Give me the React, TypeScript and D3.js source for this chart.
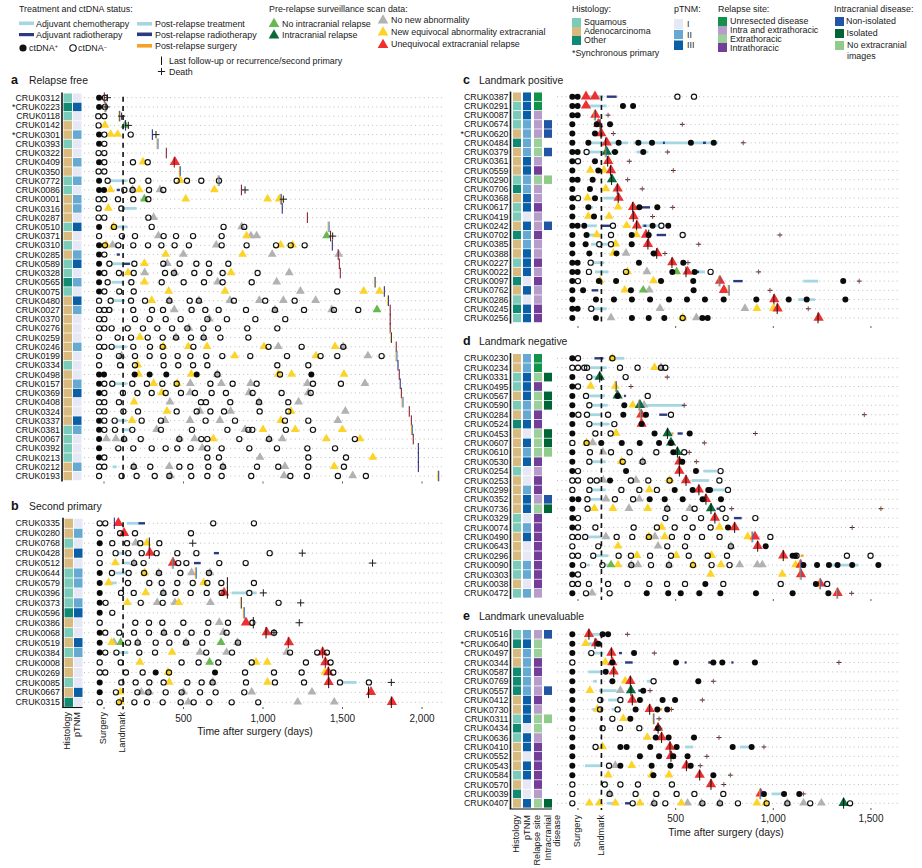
import React from "react";
import * as d3 from "d3";

type Row = { id: string; m: string; p?: number[]; n?: number[]; y?: number[]; g?: number[]; G?: number[]; D?: number[]; R?: number[]; c?: number[]; r?: number[]; s?: number[]; lr?: number[]; lb?: number[]; lo?: number[]; ly?: number[]; lk?: number[]; x?: number[] };

const relapseFree: Row[] = [
  { id: "CRUK0312", m: "S1", p: [-31], n: [6], lr: [2], x: [21] },
  { id: "*CRUK0223", m: "O3", p: [-31], n: [6], lo: [8], x: [13] },
  { id: "CRUK0118", m: "S1", n: [-36, 2], ly: [96], x: [111] },
  { id: "CRUK0142", m: "A1", n: [-34], y: [6], G: [132], lb: [136], x: [153] },
  { id: "*CRUK0301", m: "A2", p: [-31], n: [2, 168], y: [42, 86], lb: [304], x: [327] },
  { id: "CRUK0393", m: "S1", p: [-31], n: [2], lo: [337] },
  { id: "CRUK0322", m: "A1", n: [-34, 2], lr: [392] },
  { id: "CRUK0409", m: "A2", p: [-31], n: [2, 182, 275], y: [245], R: [446], lr: [442] },
  { id: "CRUK0350", m: "A1", n: [-34, 2], lo: [478] },
  { id: "CRUK0772", m: "S2", p: [-31], n: [23, 178, 279, 457, 522, 612, 723], c: [44, 143], y: [480], lo: [721] },
  { id: "CRUK0086", m: "S1", p: [-31, 0], y: [40, 222, 694], r: [80, 100], n: [128, 180, 283, 373], g: [180, 352], lr: [864], x: [887] },
  { id: "CRUK0001", m: "A2", n: [-34, 2, 88, 184, 279], G: [254], y: [514, 1029, 1102], lo: [1113], x: [1128] },
  { id: "CRUK0316", m: "A2", n: [-34, 109], y: [27], c: [117, 205], lb: [1121] },
  { id: "CRUK0287", m: "A1", n: [-34, 2, 279], g: [312], lr: [1279] },
  { id: "CRUK0510", m: "S3", p: [-31], y: [59], n: [63, 300, 752, 882], c: [59, 147], g: [866], lo: [1413] },
  { id: "CRUK0371", m: "A1", n: [-31, 113, 195, 375, 453, 560, 740], g: [342, 924, 960], y: [897], G: [1400], lr: [1425], x: [1438] },
  { id: "CRUK0310", m: "S1", p: [-31], y: [13, 1111, 1186], n: [6, 90, 184, 277, 361, 444, 534, 740, 897, 1082, 1174, 1262], g: [54, 706], lb: [1436] },
  { id: "CRUK0285", m: "A2", p: [-31], n: [2], r: [80, 100], y: [388, 872], g: [499, 1058, 1476], lr: [1473] },
  { id: "CRUK0589", m: "S3", p: [-31], n: [34, 191, 373, 476, 581, 660, 782], c: [44, 122], r: [122, 164], y: [254], g: [398], lr: [1480] },
  { id: "CRUK0328", m: "S1", p: [-31], n: [2, 94, 187, 384, 440, 568, 662, 746, 966], y: [151, 799], g: [256, 446, 1165], lr: [1486] },
  { id: "CRUK0565", m: "O2", p: [-31], n: [23, 172, 363, 501, 629, 746, 929], c: [48, 126], y: [254], g: [715, 1086], lo: [1704] },
  { id: "CRUK0075", m: "S1", p: [-31], n: [2, 96, 187, 1467], y: [407, 761, 1633, 1733], g: [1235], lb: [1763] },
  { id: "CRUK0480", m: "A3", n: [-31, 42, 170, 258, 411, 539, 597, 817, 1014, 1199], c: [59, 132], y: [300], g: [411, 597, 792, 977, 1128, 1331], ly: [1786] },
  { id: "CRUK0027", m: "A2", n: [-31, 2, 33, 184, 302, 371, 551, 637, 721, 893, 1075, 1258, 1446, 1599], c: [38, 59], g: [442, 1075, 1432], G: [1717], lr: [1800] },
  { id: "CRUK0370", m: "A1", n: [-31, 2, 195, 287, 388, 482, 650, 773, 952, 1140], g: [662], lr: [1800] },
  { id: "CRUK0276", m: "A1", n: [-31, 2, 48, 149, 245, 335, 428, 524, 625, 717, 901, 1090], g: [534], lr: [1800] },
  { id: "CRUK0259", m: "A1", n: [-31, 86, 170, 275, 369, 453, 547, 627, 732, 908], y: [226], g: [453, 627], ly: [1805] },
  { id: "CRUK0246", m: "A2", n: [-31, 2, 48, 184, 289, 369, 562, 1035, 1243, 1505], c: [59, 143], y: [373, 530, 648, 1006, 1453], g: [1096, 1505], lr: [1838] },
  { id: "CRUK0199", m: "A1", n: [-31, 94, 195, 287, 373, 463, 543, 643, 744, 920, 1151, 1362, 1467, 1746], g: [111, 1660], y: [822, 1333], lo: [1840] },
  { id: "CRUK0334", m: "S1", n: [-31, 101, 195, 375, 467, 560, 650, 1090, 1285], y: [212], lb: [1849] },
  { id: "CRUK0498", m: "A1", p: [-31, 0, 193, 287, 392, 583, 1304], y: [218, 549, 1096, 1180, 1509], n: [713, 1107], g: [713], lr: [1857] },
  { id: "CRUK0157", m: "A2", p: [-31], n: [2, 52, 178, 270, 367, 457, 669, 809, 960, 1314, 1490], c: [59, 143], y: [312, 461], g: [543, 738, 922, 1279, 1641], lb: [1863] },
  { id: "CRUK0369", m: "A3", p: [-31], n: [2, 119, 210, 300, 388, 484, 572, 677, 767, 935, 1117, 1300], y: [363], g: [541, 912, 1285], lr: [1870] },
  { id: "CRUK0408", m: "A1", n: [-31, 2, 94, 610, 641, 794, 975, 1159], y: [189], g: [415, 975, 1224], lo: [1878] },
  { id: "CRUK0324", m: "A1", n: [-31, 2, 122, 214, 457, 583, 669, 755, 979, 1159], y: [396, 1176], g: [604, 796, 1518], lr: [1920] },
  { id: "CRUK0337", m: "A3", p: [-31], n: [2, 67, 237, 358, 639, 824, 1138, 1285], c: [80, 143], y: [176, 1113], g: [384, 541, 729, 1471], lr: [1933] },
  { id: "CRUK0381", m: "S2", p: [-31], n: [2, 69, 178, 358, 553, 776, 908, 933, 1144, 1314], c: [111, 184], g: [331, 887], y: [1000, 1203, 1499], lo: [1937] },
  { id: "CRUK0067", m: "S1", p: [-31], g: [15, 75, 126, 474, 570, 1038, 1121], n: [126, 231, 474, 612, 650, 851, 1038, 1578], y: [688, 1398, 1610], lr: [1945] },
  { id: "CRUK0392", m: "S1", p: [-31], n: [90, 184, 300, 388, 461, 545, 650, 740, 914, 1088, 1279, 1453], g: [618], lb: [1977] },
  { id: "CRUK0213", m: "S1", p: [-31], n: [2, 650, 723, 1285, 1522], g: [981], y: [1691], lb: [1977] },
  { id: "CRUK0212", m: "A2", n: [-31, 2, 187, 291, 474, 543, 656, 748, 962, 1096, 1285, 1509], c: [54, 80], g: [187, 411, 748, 1138], y: [1448], lb: [1977] },
  { id: "CRUK0193", m: "A1", n: [-31, 111, 205, 319, 411, 549, 650, 740, 926, 1172, 1276, 1471, 1647], g: [419, 1132, 1564], ly: [2102] },
];

const secondPrimary: Row[] = [
  { id: "CRUK0335", m: "A1", n: [-27, 8, 687, 943], R: [90], lb: [65], c: [143, 216], r: [216, 258] },
  { id: "CRUK0280", m: "A2", n: [-27, 101, 195, 547], R: [126], s: [205, 215] },
  { id: "CRUK0768", m: "S1", p: [-27], n: [52, 145, 228, 348], g: [199], y: [270], lk: [285], x: [558] },
  { id: "CRUK0428", m: "A3", n: [-27, 73, 153, 237, 331, 461, 581, 1042], c: [80, 164], R: [289], lr: [285], s: [325, 340], r: [692, 723], x: [1247] },
  { id: "CRUK0512", m: "A1", n: [-27, 189, 249, 467, 518, 725, 891], y: [71], c: [111, 164], g: [189], R: [434], lo: [432], r: [566, 608], x: [1689] },
  { id: "CRUK0644", m: "S2", p: [-27], n: [50, 155, 252, 346, 480, 660], c: [63, 174], y: [256], g: [344, 551, 667], lo: [578] },
  { id: "CRUK0579", m: "S2", p: [-27], y: [29, 627], c: [38, 80], n: [151, 285, 363, 461, 558, 650, 738, 943], lk: [776] },
  { id: "CRUK0396", m: "S1", p: [-27], n: [107, 187, 373, 449, 545, 646, 740, 914], y: [262], g: [373], R: [755], lk: [776], c: [803, 960], x: [1002] },
  { id: "CRUK0373", m: "S2", p: [-27], n: [10, 231, 369, 1098], y: [147, 470], g: [335, 446, 669], ly: [861], x: [1237] },
  { id: "CRUK0596", m: "O3", p: [-27], n: [52], lo: [880] },
  { id: "CRUK0386", m: "A1", n: [-27, 197, 283, 367, 499, 656, 780, 933], g: [725], R: [893], lk: [939], x: [1228] },
  { id: "CRUK0068", m: "S1", p: [-27], n: [8, 96, 189, 283, 377, 461, 551, 648, 771, 1069], g: [377, 750], R: [1023], lk: [1019], x: [1069] },
  { id: "CRUK0519", m: "A3", p: [-27], y: [48], g: [63, 212, 516, 838], G: [105, 736], n: [151, 212, 325, 411, 516, 618, 843], R: [1163], lr: [1159] },
  { id: "CRUK0384", m: "S2", p: [-27], n: [8, 78, 222, 321, 643, 805, 1170, 1341, 1402], c: [69, 153], y: [428], g: [604, 771, 1149], R: [1375], lr: [1375] },
  { id: "CRUK0008", m: "A1", n: [-27, 105, 488, 595, 719, 929, 1270, 1425], y: [226, 956, 1027], G: [664], R: [1392], lr: [1392] },
  { id: "CRUK0269", m: "A1", n: [-27, 8, 138, 243, 409, 887, 1069, 1243, 1442], p: [325, 698], y: [402, 1390], R: [1411], lk: [1411] },
  { id: "CRUK0085", m: "S1", p: [-27], n: [109, 199, 285, 375, 524, 614, 683, 893, 1075, 1258, 1484, 1666], y: [411, 1029], g: [683], R: [1413], lk: [1413], c: [1484, 1589], x: [1807] },
  { id: "CRUK0667", m: "A3", p: [-27], n: [75, 210, 279, 388, 488, 604, 702, 882], y: [103], g: [235, 285, 499, 929, 1308], lk: [1664], R: [1679] },
  { id: "CRUK0315", m: "O1", n: [-27, 94, 191, 270, 369, 482, 564, 662, 803, 970], y: [103], g: [530, 1218, 1448], R: [1811], lk: [1807] },
];

const landmarkPositive: Row[] = [
  { id: "CRUK0387", m: "A3U", p: [-29, -2], R: [41, 87], c: [44, 130], r: [147, 198], n: [509, 594] },
  { id: "CRUK0291", m: "S3U", p: [-29, -2, 230, 282], R: [41], c: [53, 147] },
  { id: "CRUK0087", m: "S3P", p: [-29, -2], R: [89], ly: [85], x: [154] },
  { id: "CRUK0674", m: "S2PN", p: [-29, 96, 164], R: [104], lk: [113], x: [534] },
  { id: "*CRUK0620", m: "A2PN", p: [-29, 87], R: [119], lk: [118], x: [181] },
  { id: "CRUK0484", m: "O2E", p: [-29, 53, 208, 309, 379, 578, 695], c: [61, 257, 283, 718], R: [147], lk: [142], r: [435, 445, 640, 655], x: [846] },
  { id: "CRUK0379", m: "A2EN", p: [-29, -2, 189, 334], n: [44], c: [53, 130, 300, 360], D: [147], lo: [142], r: [172, 206], x: [459] },
  { id: "CRUK0361", m: "A3P", p: [-29, 87], n: [0], R: [155], lk: [152], x: [263] },
  { id: "CRUK0559", m: "A3I", p: [-29, 104], y: [63, 133], R: [169], lk: [166], x: [488] },
  { id: "CRUK0290", m: "S2EX", p: [-29, -2, 75], D: [174], lk: [172], x: [254] },
  { id: "CRUK0706", m: "O2P", p: [-29, 61], y: [142], R: [203], lk: [201], x: [329] },
  { id: "CRUK0368", m: "A3P", p: [-29, 87], n: [0], y: [49], c: [130, 215], R: [208], lk: [206] },
  { id: "CRUK0617", m: "S3I", p: [-29, 53, 314, 406], c: [53, 78], y: [205], R: [282], lk: [280], r: [300, 369], x: [485] },
  { id: "CRUK0419", m: "S1P", p: [-29, 82], y: [53, 159], R: [285], lk: [283], x: [382] },
  { id: "CRUK0242", m: "A3PN", p: [-29, -2, 32, 382, 462], c: [44, 96, 326, 437], r: [121, 164, 335, 350], n: [179, 427], y: [249], R: [302], lk: [300] },
  { id: "CRUK0702", m: "O2I", p: [-29, 44, 275, 362], c: [53, 113], y: [96, 299], n: [169, 536], R: [348], lk: [362], r: [403, 451], x: [1034] },
  { id: "CRUK0385", m: "A2P", p: [-29, 39, 275], c: [67, 164], n: [109, 169], y: [193], R: [358], lk: [358], x: [618] },
  { id: "CRUK0388", m: "A3P", p: [-29, 58, 197, 387], y: [181], g: [246], R: [406], lk: [403], x: [445] },
  { id: "CRUK0227", m: "S3I", p: [-29, -2, 312, 539], c: [53, 133], n: [65], R: [483], lk: [481], x: [563] },
  { id: "CRUK0022", m: "A3P", p: [-29, -2, 483, 597], n: [56, 246, 679], c: [87, 155, 607, 650], y: [254], g: [353], G: [505], R: [561], lk: [553], r: [604, 620], x: [925] },
  { id: "CRUK0097", m: "O1I", p: [-29, 107, 195, 425, 590, 1358], n: [0], y: [113, 386], R: [727], lo: [724], r: [795, 843], c: [1154, 1230], x: [1440] },
  { id: "CRUK0762", m: "A3P", p: [-29, 26, 271, 592], r: [70, 104], y: [239], G: [334], g: [365], R: [747], ly: [771], x: [983] },
  { id: "CRUK0286", m: "S1P", p: [-29, 92, 184, 276, 369, 466, 558, 650, 746, 913, 1079, 1171, 1369], R: [1005], lk: [1003], c: [1128, 1213] },
  { id: "CRUK0245", m: "O3I", p: [-29, -2], n: [68], c: [78, 147], g: [420, 855], y: [916, 1000], R: [1022], lk: [1020], x: [1179] },
  { id: "CRUK0256", m: "S3I", p: [-29, 92, 276, 362, 442, 637, 664], g: [169, 606], y: [536], n: [536], R: [1232], lk: [1229] },
];

const landmarkNegative: Row[] = [
  { id: "CRUK0230", m: "A2U", p: [-29], n: [0, 176], r: [84, 130], y: [176], c: [189, 237] },
  { id: "CRUK0234", m: "A2U", n: [-29, 0, 32, 46, 215, 305, 425, 447], c: [53, 147], y: [392], g: [425] },
  { id: "CRUK0331", m: "S3EL", p: [-29], n: [58, 244], c: [65, 121], D: [111], lk: [111], x: [457] },
  { id: "CRUK0495", m: "S3I", p: [-29], n: [0], y: [65, 191], ly: [193], x: [271] },
  { id: "CRUK0567", m: "A3EL", p: [-29, 203], n: [41, 357], c: [58, 138], D: [203], r: [235, 245] },
  { id: "CRUK0590", m: "S2EL", p: [-29, 237], n: [58], c: [70, 152, 326, 543], y: [280], D: [317], lo: [314], g: [338], x: [544] },
  { id: "CRUK0284", m: "A2I", p: [-29, 232, 348], n: [2, 46, 154, 476], c: [53, 116], R: [324], lo: [322], r: [416, 457], x: [1466] },
  { id: "CRUK0524", m: "O3I", p: [-29, 326], n: [58, 186], c: [70, 160], R: [326] },
  { id: "CRUK0453", m: "A1EL", p: [-29, 392, 572], n: [89, 167], y: [195], D: [459], lk: [458], s: [478, 488], r: [510, 536], x: [908] },
  { id: "CRUK0607", m: "A3EL", n: [-29, 44], y: [44], g: [75], p: [119, 224, 316, 415, 476], D: [476], x: [647] },
  { id: "CRUK0610", m: "A2EX", p: [-29, 488], n: [61, 169, 264, 401, 544], g: [128], D: [509], lk: [509], x: [570] },
  { id: "CRUK0530", m: "A3I", p: [-29, 534], n: [58, 229, 331], c: [65, 142], y: [222], g: [331], R: [519], lk: [519], x: [606] },
  { id: "CRUK0254", m: "S1P", p: [-29, 246, 604], n: [0, 730], R: [519], lk: [519], c: [642, 710] },
  { id: "CRUK0253", m: "A1I", n: [-29, 0, 63, 96, 271, 360, 469, 724], g: [130, 297], p: [164], y: [469], R: [553], lk: [553], c: [582, 672] },
  { id: "CRUK0299", m: "A2I", n: [-29, 58, 222, 314, 404, 768], c: [65, 142, 684, 753], y: [365], p: [495, 587, 667, 676], R: [619], lk: [619] },
  { id: "CRUK0352", m: "A3PN", p: [-29, 2, 367, 444, 536, 638, 732], n: [48, 189, 282], c: [61, 121], g: [143, 314], R: [655], lk: [655] },
  { id: "CRUK0736", m: "A3EL", p: [-29], n: [49, 457, 597, 739], y: [84, 179, 357], g: [261, 457, 573], D: [681], lk: [681], r: [710, 725], x: [787, 1551] },
  { id: "CRUK0329", m: "S1I", p: [-29], n: [0, 447, 546, 630, 756, 908], R: [701], lk: [701], r: [799, 838] },
  { id: "CRUK0074", m: "S2I", p: [-29, 768], n: [0, 89, 285, 404, 495, 587, 679], y: [428, 724], R: [802], lk: [802], x: [1404] },
  { id: "CRUK0490", m: "A3I", n: [-29, 0, 37, 198, 278, 363, 481, 558, 635, 725, 985], c: [53, 121], g: [143, 394], y: [363, 444, 869], R: [906], lo: [892] },
  { id: "CRUK0643", m: "A1I", n: [-29, 104, 457, 548, 783], y: [205], g: [410, 783], R: [920], lk: [920], p: [961] },
  { id: "CRUK0296", m: "A1I", n: [-29, 0, 78, 208, 271, 369, 476, 567, 664, 763, 1119, 1377, 1498], c: [65, 155], y: [302, 503, 684], R: [1051], lk: [1051], p: [1099, 1111], s: [1140, 1155] },
  { id: "CRUK0090", m: "S2I", p: [-29, 1154, 1224, 1285, 1329, 1404, 1538], n: [26, 125, 273, 374, 466, 589, 684, 776], c: [44, 61, 130, 164, 1270, 1435], G: [169], y: [205, 589, 732, 1114], g: [273, 307, 466, 828, 918, 944], R: [1140], lo: [1138] },
  { id: "CRUK0303", m: "S2I", p: [-29], n: [0], y: [679, 1046], R: [1142], lo: [1140] },
  { id: "CRUK0038", m: "A1I", n: [-29, 0, 56, 154, 253, 365, 456, 548, 744, 1038, 1276], p: [652, 1218], R: [1241], lo: [1239] },
  { id: "CRUK0472", m: "S2P", p: [-29, 352, 462, 526, 621, 729, 911, 1099, 1282], n: [41, 162], g: [72], R: [1329], lo: [1327], x: [1401] },
];

const landmarkUnevaluable: Row[] = [
  { id: "CRUK0516", m: "S2PN", p: [-29, 126, 154], R: [56], lk: [56], c: [70, 130], x: [253] },
  { id: "*CRUK0640", m: "O3E", p: [-29, 104], y: [39], c: [44, 96], R: [92], lk: [87] },
  { id: "CRUK0497", m: "A2E", p: [-29, 287], n: [68], c: [61, 130], R: [171], lk: [171], r: [210, 225], x: [391] },
  { id: "CRUK0344", m: "A2I", n: [-29], y: [140], R: [176], p: [176, 502, 693, 739, 906], r: [241, 280, 546, 556, 667, 693, 785, 796], x: [1336] },
  { id: "CRUK0587", m: "O2I", p: [-29, 142], c: [53, 147], R: [183], lk: [183] },
  { id: "CRUK0769", m: "O2P", p: [-29, 176, 616], c: [78, 96, 352, 403], y: [242], R: [268], lk: [268], n: [387], x: [693] },
  { id: "CRUK0557", m: "O2PN", p: [-29, 334], y: [61], c: [107, 198], g: [217], D: [271], lk: [271], r: [309, 343], x: [369] },
  { id: "CRUK0412", m: "A3I", p: [-29, 317, 433, 497], n: [114, 217], c: [99, 133, 155, 215], R: [278], lk: [278], x: [637] },
  { id: "CRUK0730", m: "A3P", p: [-29, 295, 406, 457], y: [99], n: [113, 203], c: [73, 130, 172, 198], R: [367], lk: [367], s: [418, 432], x: [478] },
  { id: "CRUK0311", m: "S3EX", p: [-29, 268], r: [116, 126], n: [176], y: [232], ly: [386], x: [415] },
  { id: "CRUK0434", m: "O1E", n: [-29, 126, 215, 314], R: [410], p: [410], lk: [410], x: [420] },
  { id: "CRUK0636", m: "S3P", p: [-29, 398, 464, 594], y: [355], R: [428], lk: [428], r: [458, 470], x: [722] },
  { id: "CRUK0410", m: "A3I", p: [-29, 217, 249, 370, 505, 792, 889], n: [90], c: [78, 103, 548, 590, 829, 889], y: [126], R: [471], lk: [471], x: [952] },
  { id: "CRUK0552", m: "A1I", p: [-29, 317, 415, 488, 561], R: [476], lk: [476], x: [660] },
  { id: "CRUK0543", m: "A3I", p: [-29, 217, 377, 473, 577], c: [36, 121], n: [159], g: [191], y: [275], R: [555], lk: [555], x: [626] },
  { id: "CRUK0584", m: "S3I", p: [-29, 386, 693], y: [155, 377, 466], R: [623], lk: [623], x: [780] },
  { id: "CRUK0570", m: "A1I", n: [-29, 137, 217, 307, 481], R: [681], lk: [681], x: [747] },
  { id: "CRUK0039", m: "O1P", n: [-29, 162, 295, 401, 505, 596, 744], g: [162], R: [935], lo: [933], p: [952, 1055, 1133], c: [991, 1051], x: [1154] },
  { id: "CRUK0407", m: "A3EL", n: [-29, 280, 391, 447, 637, 727, 819, 966, 1072, 1189, 1393], y: [58, 109, 191, 317, 529, 916, 961], c: [147, 206], r: [241, 266], g: [387, 561, 633, 724, 1072, 1155, 1246], D: [1360], lk: [1360] },
];

const axisTicksAB = [0, 500, 1000, 1500, 2000];
const axisTicksCDE = [0, 500, 1000, 1500];
const LANDMARK_DAY = 120;

const FONT = "'Liberation Sans', Arial, sans-serif";
const INK = "#1c1c1c";
const COL: Record<string, string> = {
  S: "#7bcbb9", A: "#d8ba7e", O: "#118a74",
  "1": "#e6e9f5", "2": "#66a9d3", "3": "#0a5fa6",
  U: "#13924c", P: "#b79dc9", E: "#9bd09b", I: "#723e98",
  N: "#2255a4", L: "#006537", X: "#8fcb8b",
  g: "#b2b2b2", y: "#fdd325", G: "#66b84f", D: "#0a6a3a", R: "#ee3030",
  c: "#a5d7e3", r: "#2d3a80", s: "#f7a026",
};

const triPath = d3.symbol(d3.symbolTriangle, 34)() as string;
const triBig = d3.symbol(d3.symbolTriangle, 46)() as string;

function Tri({ x, y, k }: { x: number; y: number; k: string }) {
  return <path d={k === "R" || k === "D" ? triBig : triPath} transform={`translate(${x},${y - 0.3})`} fill={COL[k]} />;
}
function Plus({ x, y, r, a = INK, b = INK }: { x: number; y: number; r: number; a?: string; b?: string }) {
  return (
    <g strokeWidth={1}>
      <line x1={x - r} x2={x + r} y1={y} y2={y} stroke={a} />
      <line x1={x} x2={x} y1={y - r} y2={y + r} stroke={b} />
    </g>
  );
}
function pairs(v?: number[]): [number, number][] {
  const o: [number, number][] = [];
  if (v) for (let i = 0; i + 1 < v.length; i += 2) o.push([v[i], v[i + 1]]);
  return o;
}

type PanelCfg = {
  rows: Row[]; letter: string; title: string; titleY: number; letterX: number; titleX: number;
  x0: number; x1: number; dotStart: number; dotEnd: number; first: number; last: number;
  labelRight: number; axisX: number; swatchX: number[]; swatchW: number; ticks: number[]; tickY: number;
  plusR: number; bottom?: { y: number; x2: number }; plusTint?: boolean;
};

function Panel(c: PanelCfg) {
  const x = d3.scaleLinear().domain([0, 1000]).range([c.x0, c.x1]);
  const yS = d3.scaleLinear().domain([0, c.rows.length - 1]).range([c.first, c.last]);
  const step = yS(1) - yS(0);
  const top = c.first - step / 2 - 0.5;
  const bot = c.last + step / 2 + 1;
  const LH = step * 1.15;
  return (
    <g>
      <text x={c.letterX} y={c.titleY} fontSize={12.5} fontWeight={700} fill="#111">{c.letter}</text>
      <text x={c.titleX} y={c.titleY} fontSize={10.4}>{c.title}</text>
      <line x1={c.axisX} x2={c.axisX} y1={top} y2={c.bottom ? c.bottom.y : bot} stroke="#111" strokeWidth={1.6} />
      {c.bottom && <line x1={c.axisX - 0.8} x2={c.bottom.x2} y1={c.bottom.y} y2={c.bottom.y} stroke="#111" strokeWidth={1.1} />}
      {c.rows.map((r) => {
        const y = yS(c.rows.indexOf(r));
        return (
          <g key={r.id}>
            <text x={c.labelRight} y={y + 3.1} fontSize={8.8} textAnchor="end" fill="#111">{r.id}</text>
            {r.m.split("").map((k, i) => (
              <rect key={i} x={c.swatchX[i]} y={y - step * 0.46} width={c.swatchW} height={step * 0.92} fill={COL[k]} />
            ))}
            <line x1={c.dotStart} x2={c.dotEnd} y1={y} y2={y} stroke="#b5b5b5" strokeWidth={0.9} strokeDasharray="1 3.3" />
            {(["c", "r", "s"] as const).flatMap((k) => pairs(r[k]).map(([a, b], i) => (
              <line key={k + i} x1={x(a)} x2={x(b)} y1={y} y2={y} stroke={COL[k]} strokeWidth={k === "c" ? 2.8 : 2.4} />
            )))}
            {(r.n || []).map((d, i) => <circle key={i} cx={x(d)} cy={y} r={2.6} fill="#fff" />)}
            {(["g", "y", "G", "D", "R"] as const).flatMap((k) => (r[k] || []).map((d, i) => <Tri key={k + i} x={x(d)} y={y} k={k} />))}
            {(r.n || []).map((d, i) => <circle key={i} cx={x(d)} cy={y} r={2.6} fill="none" stroke="#111" strokeWidth={1.15} />)}
            {(r.p || []).map((d, i) => <circle key={i} cx={x(d)} cy={y} r={3} fill="#0b0b0b" />)}
            {(r.lr || []).map((d, i) => <line key={i} x1={x(d)} x2={x(d)} y1={y - LH / 2} y2={y + LH / 2} stroke="#7a1020" strokeWidth={1} />)}
            {(r.lb || []).map((d, i) => <line key={i} x1={x(d)} x2={x(d)} y1={y - LH / 2} y2={y + LH / 2} stroke="#1a1f7a" strokeWidth={1} />)}
            {(r.lk || []).map((d, i) => <line key={i} x1={x(d)} x2={x(d)} y1={y - LH / 2} y2={y + LH / 2} stroke="#111" strokeWidth={1} />)}
            {(r.lo || []).flatMap((d, i) => [
              <line key={"a" + i} x1={x(d) - 0.5} x2={x(d) - 0.5} y1={y - LH / 2} y2={y + LH / 2} stroke="#ef8a17" strokeWidth={0.9} />,
              <line key={"b" + i} x1={x(d) + 0.5} x2={x(d) + 0.5} y1={y - LH / 2} y2={y + LH / 2} stroke="#1e78d0" strokeWidth={0.9} />,
            ])}
            {(r.ly || []).flatMap((d, i) => [
              <line key={"a" + i} x1={x(d) - 0.5} x2={x(d) - 0.5} y1={y - LH / 2} y2={y + LH / 2} stroke="#fdd325" strokeWidth={0.9} />,
              <line key={"b" + i} x1={x(d) + 0.5} x2={x(d) + 0.5} y1={y - LH / 2} y2={y + LH / 2} stroke="#1a1f7a" strokeWidth={0.9} />,
            ])}
            {(r.x || []).map((d, i) => (
              <Plus key={i} x={x(d)} y={y} r={c.plusR} a={c.plusTint ? "#1d2470" : INK} b={c.plusTint ? "#a04a1a" : INK} />
            ))}
          </g>
        );
      })}
      <line x1={x(LANDMARK_DAY)} x2={x(LANDMARK_DAY)} y1={c.first - 1} y2={bot + 1} stroke="#111" strokeWidth={1.6} strokeDasharray="5 4.2" />
      {c.ticks.map((t) => (
        <line key={t} x1={x(t)} x2={x(t)} y1={c.tickY} y2={c.tickY + 2} stroke="#333" strokeWidth={0.8} />
      ))}
    </g>
  );
}

function VText({ x, y, t }: { x: number; y: number; t: string }) {
  return <text transform={`translate(${x},${y}) rotate(-90)`} textAnchor="end" fontSize={9.2} dominantBaseline="middle">{t}</text>;
}

function Legend() {
  const sw = (x: number, y: number, w: number, h: number, k: string) => <rect x={x} y={y} width={w} height={h} fill={COL[k]} />;
  const T = (x: number, y: number, s: string) => <text x={x} y={y} fontSize={8.9}>{s}</text>;
  const LT = (x: number, y: number, k: string) => <g transform={`translate(${x},${y}) scale(1.2)`}><path d={triPath} fill={COL[k]} /></g>;
  return (
    <g>
      {T(19, 12, "Treatment and ctDNA status:")}
      {sw(19, 21.5, 15, 3.6, "c")}{T(36, 27, "Adjuvant chemotherapy")}
      {sw(19, 33, 15, 3.2, "r")}{T(36, 38, "Adjuvant radiotherapy")}
      <circle cx={23} cy={48} r={3.6} fill="#111" />
      <text x={29} y={50.5} fontSize={8.9}>ctDNA<tspan fontSize={5.5} dy={-2.5}>+</tspan></text>
      <circle cx={73} cy={48} r={3.2} fill="none" stroke="#111" strokeWidth={1.1} />
      <text x={78} y={51} fontSize={8.9}>ctDNA<tspan fontSize={5.5} dy={-2.5}>−</tspan></text>
      {sw(137, 22, 15, 3.6, "c")}{T(155, 27, "Post-relapse treatment")}
      {sw(137, 32.5, 15, 3.6, "r")}{T(155, 37.5, "Post-relapse radiotherapy")}
      {sw(137, 44, 15, 3.6, "s")}{T(155, 48.5, "Post-relapse surgery")}
      <line x1={161.5} x2={161.5} y1={56.5} y2={65} stroke="#111" strokeWidth={1} />
      {T(169, 64, "Last follow-up or recurrence/second primary")}
      <Plus x={161.5} y={71.5} r={3.6} />
      {T(169, 75, "Death")}

      {T(269, 12, "Pre-relapse surveillance scan data:")}
      {LT(274, 24, "G")}{T(282, 27, "No intracranial relapse")}
      {LT(274, 35.5, "D")}{T(282, 38, "Intracranial relapse")}
      {LT(383, 20.5, "g")}{T(391, 23, "No new abnormality")}
      {LT(383, 32.5, "y")}{T(391, 35, "New equivocal abnormality extracranial")}
      {LT(383, 45, "R")}{T(391, 47, "Unequivocal extracranial relapse")}

      {T(572, 12, "Histology:")}
      {sw(572, 18, 9, 9, "S")}{T(584, 25, "Squamous")}
      {sw(572, 27, 9, 9, "A")}{T(584, 34, "Adenocarcinoma")}
      {sw(572, 36, 9, 9, "O")}{T(584, 43, "Other")}
      {T(572, 56, "*Synchronous primary")}

      {T(674, 12, "pTNM:")}
      {sw(674, 19, 9, 10, "1")}{T(687, 27, "I")}
      {sw(674, 30, 9, 9, "2")}{T(687, 38, "II")}
      {sw(674, 40.5, 9, 9.5, "3")}{T(687, 48, "III")}

      {T(718, 11.5, "Relapse site:")}
      {sw(718, 17, 9, 9, "U")}{T(730, 24, "Unresected disease")}
      {sw(718, 26, 9, 9, "P")}{T(730, 33, "Intra and extrathoracic")}
      {sw(718, 34.5, 9, 9, "E")}{T(730, 42, "Extrathoracic")}
      {sw(718, 43, 9, 9, "I")}{T(730, 51, "Intrathoracic")}

      {T(834, 11.5, "Intracranial disease:")}
      {sw(835, 17, 9, 9, "N")}{T(846, 24, "Non-isolated")}
      {sw(835, 29, 9, 9, "L")}{T(846.5, 36, "Isolated")}
      {sw(835, 41, 9, 9, "X")}{T(847, 48, "No extracranial")}
      {T(847, 59, "images")}
    </g>
  );
}

export default function App() {
  const rAB = { x0: 104, x1: 263 };
  const rCDE = { x0: 578, x1: 773.3 };
  const sAB = d3.scaleLinear().domain([0, 1000]).range([rAB.x0, rAB.x1]);
  const sCDE = d3.scaleLinear().domain([0, 1000]).range([rCDE.x0, rCDE.x1]);
  const fmt = d3.format(",");
  const cdeSw = [513, 523, 534, 544];
  const common = { letterX: 11, titleX: 29, dotStart: 84, dotEnd: 444, labelRight: 60, swatchW: 8.5, plusR: 3.6, ...rAB };
  const right = { letterX: 463, titleX: 479, dotStart: 557, dotEnd: 900, labelRight: 508.5, axisX: 510.5, swatchX: cdeSw, swatchW: 8, ticks: axisTicksCDE, plusR: 2.4, plusTint: true, ...rCDE };
  return (
    <svg width={922} height={868} viewBox="0 0 922 868" fontFamily={FONT} fill="#1a1a1a" style={{ position: "absolute", left: 0, top: 0, background: "#fff" }}>
      <Legend />
      <Panel {...common} rows={relapseFree} letter="a" title="Relapse free" titleY={84} first={97.7} last={476} axisX={62} swatchX={[63.5, 73]} ticks={axisTicksAB} tickY={481.5} />
      <Panel {...common} rows={secondPrimary} letter="b" title="Second primary" titleY={510} first={523.3} last={702.3} axisX={63} swatchX={[64.5, 74]} ticks={axisTicksAB} tickY={707} bottom={{ y: 707.5, x2: 82.5 }} />
      <Panel {...right} rows={landmarkPositive} letter="c" title="Landmark positive" titleY={84} first={96.7} last={318} tickY={326} />
      <Panel {...right} rows={landmarkNegative} letter="d" title="Landmark negative" titleY={345} first={358.3} last={593.3} tickY={599} />
      <Panel {...right} rows={landmarkUnevaluable} letter="e" title="Landmark unevaluable" titleY={620} first={634.3} last={803.3} tickY={808} bottom={{ y: 809, x2: 552 }} />

      {axisTicksAB.slice(1).map((t) => (
        <text key={t} x={sAB(t)} y={722} fontSize={10} textAnchor="middle">{fmt(t)}</text>
      ))}
      <text x={255} y={735} fontSize={10.4} textAnchor="middle">Time after surgery (days)</text>
      <VText x={68} y={712} t="Histology" />
      <VText x={78} y={712} t="pTNM" />
      <VText x={104} y={712} t="Surgery" />
      <VText x={123} y={712} t="Landmark" />

      {axisTicksCDE.slice(1).map((t) => (
        <text key={t} x={sCDE(t)} y={822} fontSize={10} textAnchor="middle">{fmt(t)}</text>
      ))}
      <text x={726} y={836} fontSize={10.4} textAnchor="middle">Time after surgery (days)</text>
      <VText x={517} y={815} t="Histology" />
      <VText x={528} y={815} t="pTNM" />
      <VText x={538} y={815} t="Relapse site" />
      <VText x={549} y={815} t="Intracranial" />
      <VText x={558} y={815} t="disease" />
      <VText x={578} y={815} t="Surgery" />
      <VText x={601.5} y={815} t="Landmark" />
    </svg>
  );
}
